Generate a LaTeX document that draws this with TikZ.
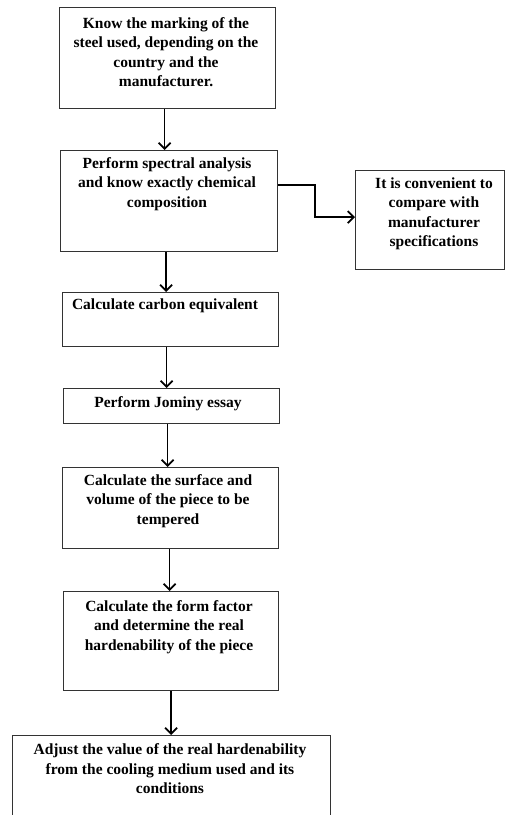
\documentclass[tikz,border=0pt]{standalone}
\usepackage{fontspec}
\setmainfont{Liberation Serif}
\usetikzlibrary{arrows.meta}
\tikzset{
  box/.style={draw=black!80, line width=1.1pt, minimum width=#1, inner sep=0pt, anchor=north west},
  txt/.style={inner sep=0pt, align=center, font=\bfseries\fontsize{15.5}{19.5}\selectfont},
  arr/.style={line width=1.8pt, -{Straight Barb[length=6pt,width=12pt,line width=1.8pt]}}
}
\begin{document}
\begin{tikzpicture}[x=1pt,y=1pt]
\useasboundingbox (0,0) rectangle (506,-815);
% boxes (top-left corner, width, height)
\node[box=216pt, minimum height=101pt] (b1) at (59,-7) {};
\node[box=217pt, minimum height=101pt] (b2) at (60,-150) {};
\node[box=149pt, minimum height=99pt] (side) at (355,-170) {};
\node[box=216pt, minimum height=54pt] (b3) at (62,-292) {};
\node[box=216pt, minimum height=35pt] (b4) at (63,-388) {};
\node[box=216pt, minimum height=81pt] (b5) at (62,-467) {};
\node[box=215pt, minimum height=99pt] (b6) at (63,-591) {};
\node[box=318pt, minimum height=100pt] (b7) at (12,-735) {};
% texts
\node[txt] (t1) at (166,-52) {Know the marking of the\\steel used, depending on the\\country and the\\manufacturer.};
\node[txt] (t2) at (167,-184) {Perform spectral analysis\\and know exactly chemical\\composition};
\node[txt] (ts) at (434,-214) {It is convenient to\\compare with\\manufacturer\\specifications};
\node[txt] (t3) at (165,-306) {Calculate carbon equivalent};
\node[txt] (t4) at (168,-404) {Perform Jominy essay};
\node[txt] (t5) at (168,-501) {Calculate the surface and\\volume of the piece to be\\tempered};
\node[txt] (t6) at (169,-627) {Calculate the form factor\\and determine the real\\hardenability of the piece};
\node[txt] (t7) at (170,-769) {Adjust the value of the real hardenability\\from the cooling medium used and its\\conditions};
% connectors
\coordinate (k) at (315,-185);
\draw[arr] ([xshift=-3pt]b1.south) -- ([xshift=-3pt]b1.south |- b2.north);
\draw[arr] ([xshift=-3pt]b2.south) -- ([xshift=-3pt]b2.south |- b3.north);
\draw[arr] ([xshift=-4pt]b3.south) -- ([xshift=-4pt]b3.south |- b4.north);
\draw[arr] ([xshift=-4pt]b4.south) -- ([xshift=-4pt]b4.south |- b5.north);
\draw[arr] ([xshift=-1pt]b5.south) -- ([xshift=-1pt]b5.south |- b6.north);
\draw[arr] ([xshift=0pt]b6.south) -- ([xshift=0pt]b6.south |- b7.north);
\draw[arr] (b2.east |- k) -- (k) |- ([yshift=3pt]side.west);
\end{tikzpicture}
\end{document}
